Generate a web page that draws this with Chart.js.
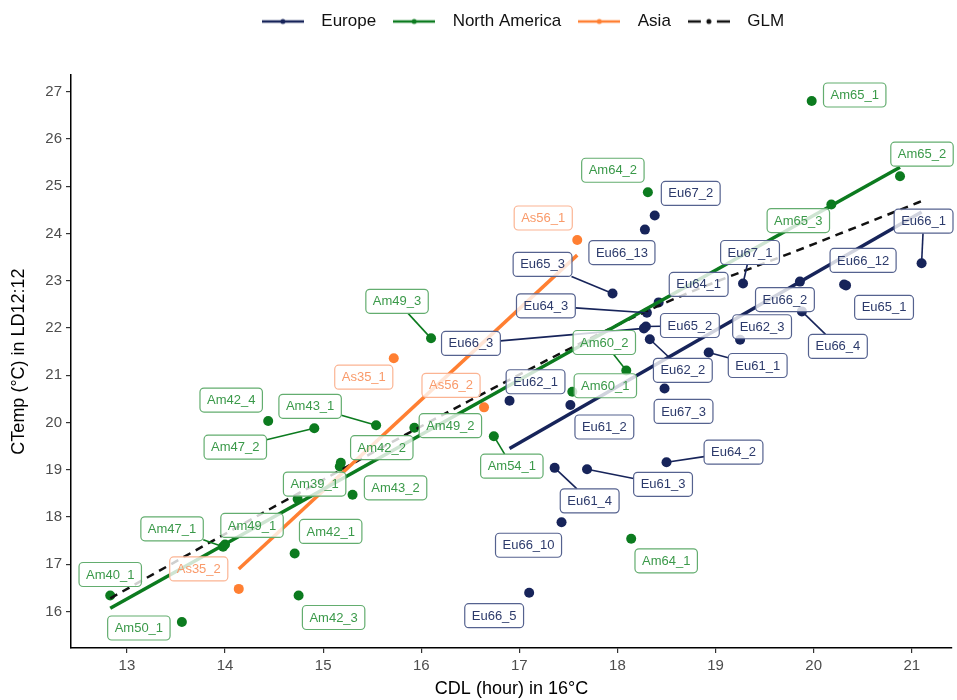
<!DOCTYPE html>
<html>
<head>
<meta charset="utf-8">
<script src="https://cdn.jsdelivr.net/npm/chart.js@4.4.0/dist/chart.umd.min.js"></script>
<style>
  html, body { margin: 0; padding: 0; background: #fff; }
  #wrap { width: 957px; height: 700px; }
</style>
</head>
<body>
<div id="wrap"><canvas id="cdlChart"></canvas></div>
<script>
// 欧洲样本
const euNames = ['Eu62_1', 'Eu61_2', 'Eu61_4', 'Eu61_3', 'Eu64_2', 'Eu66_10', 'Eu66_5', 'Eu67_3',
                 'Eu62_2', 'Eu61_1', 'Eu62_3', 'Eu65_2', 'Eu66_3', 'Eu64_3', 'Eu64_1', 'Eu65_3',
                 'Eu66_13', 'Eu67_2', 'Eu67_1', 'Eu66_2', 'Eu66_4', 'Eu66_12', 'Eu65_1', 'Eu66_1'];
const euX = [16.90, 17.52, 17.36, 17.69, 18.50, 17.43, 17.10, 18.48,
             18.33, 18.93, 19.25, 18.29, 18.27, 18.30, 18.42, 17.95,
             18.28, 18.38, 19.28, 19.86, 19.88, 20.31, 20.33, 21.10];
const euY = [20.46, 20.37, 19.04, 19.01, 19.16, 17.89, 16.40, 20.72,
             21.76, 21.48, 21.75, 22.03, 21.99, 22.32, 22.54, 22.73,
             24.08, 24.38, 22.94, 22.98, 22.35, 22.92, 22.90, 23.37];

// 北美样本
const naNames = ['Am40_1', 'Am50_1', 'Am47_1', 'Am49_1', 'Am42_1', 'Am42_3', 'Am39_1', 'Am43_2',
                 'Am42_2', '', 'Am42_4', 'Am47_2', 'Am43_1', 'Am49_2', 'Am49_3', 'Am54_1',
                 'Am60_1', 'Am60_2', 'Am64_1', 'Am64_2', 'Am65_1', 'Am65_2', 'Am65_3'];
const naX = [12.83, 13.56, 13.98, 14.00, 14.71, 14.75, 14.74, 15.30,
             15.18, 15.17, 14.44, 14.91, 15.54, 15.93, 16.10, 16.74,
             17.54, 18.09, 18.14, 18.31, 19.98, 20.88, 20.18];
const naY = [16.34, 15.78, 17.37, 17.42, 17.23, 16.34, 18.38, 18.47,
             19.15, 19.07, 20.03, 19.88, 19.94, 19.89, 21.78, 19.71,
             20.65, 21.10, 17.54, 24.87, 26.80, 25.21, 24.61];

// 亚洲样本
const asNames = ['As35_2', 'As35_1', 'As56_2', 'As56_1'];
const asX = [14.14, 15.72, 16.64, 17.59];
const asY = [16.48, 21.36, 20.32, 23.86];

// 拟合线
const euFitX = [16.90, 21.10];
const euFitY = [19.45, 24.45];
const naFitX = [12.83, 20.88];
const naFitY = [16.07, 25.40];
const asFitX = [14.14, 17.59];
const asFitY = [16.90, 23.54];
const glmFitX = [12.83, 13.86, 14.52, 16.50, 18.40, 20.02, 21.11];
const glmFitY = [16.28, 17.48, 18.24, 20.47, 22.45, 23.79, 24.69];

const xTicks = [13, 14, 15, 16, 17, 18, 19, 20, 21];
const yTicks = [16, 17, 18, 19, 20, 21, 22, 23, 24, 25, 26, 27];

// 标签相对点的偏移 (像素)
const euLabelOffsets = [[26, -19], [34, 22], [35, 33], [76, 15], [67, -10], [-33, 23], [-35, 23], [19, 23],
                        [33, 31], [49, 13], [22, -13], [44, -1], [-173, 15], [-101, -7], [40, -18], [-70, -29],
                        [-23, 23], [36, -22], [7, -31], [-15, 18], [36, 35], [19, -24], [38, 22], [2, -42]];
const naLabelOffsets = [[0, -21], [-43, 6], [-51, -18], [27, -19], [36, -22], [35, 22], [17, -15], [43, -7],
                        [41, -15], [0, 0], [-37, -21], [-79, 19], [-66, -19], [36, -2], [-34, -37], [18, 30],
                        [33, -6], [-22, -28], [35, 22], [-35, -22], [43, -6], [22, -22], [-33, 16]];
const asLabelOffsets = [[-40, -20], [-30, 19], [-33, -22], [-34, -22]];

const euColor = '#17245a';
const naColor = '#0c7b1f';
const asColor = '#ff7f32';
const glmColor = '#111';

function toPoints(xs, ys) {
    return xs.map((x, i) => ({x: x, y: ys[i]}));
}

// 图例小图标: 线段 + 中间一个点
function legendGlyph(color, dashed) {
    const c = document.createElement('canvas');
    c.width = 42;
    c.height = 8;
    const g = c.getContext('2d');
    g.strokeStyle = color;
    g.fillStyle = color;
    g.lineWidth = 2.4;
    if (dashed) g.setLineDash([13, 16]);
    g.beginPath();
    g.moveTo(0, 4);
    g.lineTo(42, 4);
    g.stroke();
    g.beginPath();
    g.arc(21, 4, 2.5, 0, Math.PI * 2);
    g.fill();
    return c;
}

const legendGlyphs = [legendGlyph(euColor), legendGlyph(naColor), legendGlyph(asColor), legendGlyph(glmColor, true)];

const groups = [
    {names: euNames, xs: euX, ys: euY, offsets: euLabelOffsets, dot: euColor, text: '#2c3a6b', edge: '#55628f'},
    {names: naNames, xs: naX, ys: naY, offsets: naLabelOffsets, dot: naColor, text: '#3a9949', edge: '#63ad6f'},
    {names: asNames, xs: asX, ys: asY, offsets: asLabelOffsets, dot: asColor, text: '#f99a6a', edge: '#fbb493'}
];

// ggrepel 风格的标签
const repelLabels = {
    id: 'repelLabels',
    afterDatasetsDraw(chart) {
        const ctx = chart.ctx;
        const sx = chart.scales.x, sy = chart.scales.y;
        ctx.save();
        ctx.font = '13px "Liberation Sans", Arial, sans-serif';
        const boxes = [];
        groups.forEach(g => {
            g.names.forEach((name, i) => {
                if (!name) return;
                const px = sx.getPixelForValue(g.xs[i]);
                const py = sy.getPixelForValue(g.ys[i]);
                const cx = px + g.offsets[i][0];
                const cy = py + g.offsets[i][1];
                boxes.push({name, px, py, cx, cy, w: ctx.measureText(name).width + 14, h: 24, g});
            });
        });
        // 先画引线 (点离标签框太近就不画)
        boxes.forEach(b => {
            const dx = b.px - b.cx, dy = b.py - b.cy;
            const gapX = Math.max(0, Math.abs(dx) - b.w / 2);
            const gapY = Math.max(0, Math.abs(dy) - b.h / 2);
            if (Math.hypot(gapX, gapY) < 14) return;
            const s = Math.min(dx ? b.w / 2 / Math.abs(dx) : Infinity, dy ? b.h / 2 / Math.abs(dy) : Infinity);
            ctx.strokeStyle = b.g.dot;
            ctx.lineWidth = 1.6;
            ctx.beginPath();
            ctx.moveTo(b.cx + dx * s, b.cy + dy * s);
            ctx.lineTo(b.px, b.py);
            ctx.stroke();
        });
        boxes.forEach(b => {
            ctx.beginPath();
            if (ctx.roundRect) ctx.roundRect(b.cx - b.w / 2, b.cy - b.h / 2, b.w, b.h, 4);
            else ctx.rect(b.cx - b.w / 2, b.cy - b.h / 2, b.w, b.h);
            ctx.fillStyle = 'rgba(255,255,255,0.8)';
            ctx.fill();
            ctx.strokeStyle = b.g.edge;
            ctx.lineWidth = 1.2;
            ctx.stroke();
            ctx.fillStyle = b.g.text;
            ctx.textAlign = 'center';
            ctx.textBaseline = 'middle';
            ctx.fillText(b.name, b.cx, b.cy + 0.5);
        });
        ctx.restore();
    }
};

// 图例挪到面板上方
const legendNudge = {
    id: 'legendNudge',
    afterLayout(chart) {
        const lg = chart.legend;
        lg.left += 40; lg.right += 40;
        lg.top -= 35; lg.bottom -= 35;
    }
};

document.addEventListener('DOMContentLoaded', function() {
    const ctx = document.getElementById('cdlChart').getContext('2d');
    new Chart(ctx, {
        type: 'scatter',
        data: {
            datasets: [{
                label: 'Europe',
                data: toPoints(euFitX, euFitY),
                showLine: true,
                borderColor: euColor,
                backgroundColor: euColor,
                borderWidth: 3.5,
                pointRadius: 0
            }, {
                label: 'North America',
                data: toPoints(naFitX, naFitY),
                showLine: true,
                borderColor: naColor,
                backgroundColor: naColor,
                borderWidth: 3.5,
                pointRadius: 0
            }, {
                label: 'Asia',
                data: toPoints(asFitX, asFitY),
                showLine: true,
                borderColor: asColor,
                backgroundColor: asColor,
                borderWidth: 3.5,
                pointRadius: 0
            }, {
                label: 'GLM',
                data: toPoints(glmFitX, glmFitY),
                showLine: true,
                cubicInterpolationMode: 'monotone',
                borderColor: glmColor,
                backgroundColor: glmColor,
                borderWidth: 2.5,
                borderDash: [8, 6],
                pointRadius: 0
            }, {
                label: 'Europe obs',
                data: toPoints(euX, euY),
                backgroundColor: euColor,
                borderWidth: 0,
                pointRadius: 5
            }, {
                label: 'North America obs',
                data: toPoints(naX, naY),
                backgroundColor: naColor,
                borderWidth: 0,
                pointRadius: 5
            }, {
                label: 'Asia obs',
                data: toPoints(asX, asY),
                backgroundColor: asColor,
                borderWidth: 0,
                pointRadius: 5
            }]
        },
        options: {
            responsive: true,
            maintainAspectRatio: false,
            animation: false,
            layout: { padding: { top: 40, left: 0, right: 0, bottom: 0 } },
            scales: {
                x: {
                    type: 'linear',
                    min: 12.43,
                    max: 21.41,
                    afterFit: s => { s.height = 52; },
                    afterBuildTicks: s => { s.ticks = xTicks.map(v => ({value: v})); },
                    border: { display: true, color: '#000', width: 1.5 },
                    grid: { display: true, drawOnChartArea: false, drawTicks: true, tickLength: 5, color: '#333', lineWidth: 1.2 },
                    ticks: { padding: 4, color: '#4d4d4d', font: { family: '"Liberation Sans", Arial, sans-serif', size: 15 } },
                    title: {
                        display: true,
                        text: 'CDL (hour) in 16°C',
                        color: '#000',
                        padding: { top: 0, bottom: 0 },
                        font: { family: '"Liberation Sans", Arial, sans-serif', size: 18 }
                    }
                },
                y: {
                    type: 'linear',
                    min: 15.23,
                    max: 27.35,
                    afterFit: s => { s.width = 71; },
                    afterBuildTicks: s => { s.ticks = yTicks.map(v => ({value: v})); },
                    border: { display: true, color: '#000', width: 1.5 },
                    grid: { display: true, drawOnChartArea: false, drawTicks: true, tickLength: 5, color: '#333', lineWidth: 1.2 },
                    ticks: { padding: 4, color: '#4d4d4d', font: { family: '"Liberation Sans", Arial, sans-serif', size: 15 } },
                    title: {
                        display: true,
                        text: 'CTemp (°C) in LD12:12',
                        color: '#000',
                        padding: { top: 8, bottom: 0 },
                        font: { family: '"Liberation Sans", Arial, sans-serif', size: 18 }
                    }
                }
            },
            plugins: {
                tooltip: { enabled: false },
                legend: {
                    position: 'top',
                    labels: {
                        usePointStyle: true,
                        pointStyleWidth: 60,
                        padding: 8,
                        color: '#111',
                        font: { family: '"Liberation Sans", Arial, sans-serif', size: 17 },
                        filter: item => item.datasetIndex < 4,
                        generateLabels: chart => Chart.defaults.plugins.legend.labels.generateLabels(chart)
                            .map(item => Object.assign(item, { pointStyle: legendGlyphs[item.datasetIndex] || 'line' }))
                    }
                }
            }
        },
        plugins: [repelLabels, legendNudge]
    });
});
</script>
</body>
</html>
